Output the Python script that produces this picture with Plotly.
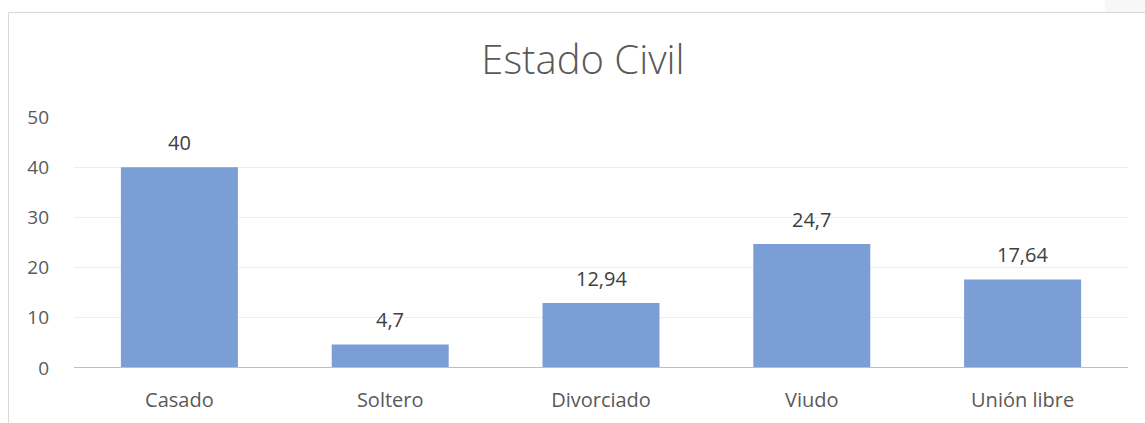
import plotly.graph_objects as go

categories = ["Casado", "Soltero", "Divorciado", "Viudo", "Unión libre"]
values = [40, 4.7, 12.94, 24.7, 17.64]
y_ticks = [0, 10, 20, 30, 40, 50]

labels = [str(v).replace(".", ",") for v in values]

fig = go.Figure()
fig.add_trace(go.Bar(
    x=categories, y=values,
    marker=dict(color="#7B9ED7", line=dict(width=0)),
    hoverinfo="x+y",
))

for c, v, t in zip(categories, values, labels):
    fig.add_annotation(x=c, y=v, text=t, showarrow=False, yanchor="bottom",
                       yshift=9, font=dict(family="Open Sans", size=20, color="#404040"))

W, H = 1145, 423
PLOT_L, PLOT_R, PLOT_T, PLOT_B = 74, 1128, 117, 368
L, R, T, B = PLOT_L, W - PLOT_R, PLOT_T, H - PLOT_B
pw, ph = PLOT_R - PLOT_L, PLOT_B - PLOT_T

def px(x):
    return (x - PLOT_L) / pw

def py(y):
    return (PLOT_B - y) / ph

shapes = [
    dict(type="line", xref="paper", yref="paper", x0=px(8.5), x1=px(8.5), y0=py(430), y1=py(12.5),
         line=dict(color="#D9D9D9", width=1)),
    dict(type="line", xref="paper", yref="paper", x0=px(8.5), x1=px(1145), y0=py(12.5), y1=py(12.5),
         line=dict(color="#D9D9D9", width=1)),
    dict(type="rect", xref="paper", yref="paper", x0=px(1105), x1=px(1145), y0=py(12), y1=py(0),
         fillcolor="#F7F7F7", line=dict(width=0), layer="below"),
    dict(type="line", xref="paper", yref="y", x0=0, x1=1, y0=0, y1=0,
         line=dict(color="#BFBFBF", width=2)),
]

fig.update_layout(
    width=W, height=H, autosize=False,
    margin=dict(l=L, r=R, t=T, b=B, pad=0),
    paper_bgcolor="white", plot_bgcolor="white",
    bargap=0.445,
    showlegend=False,
    shapes=shapes,
    title=dict(text="Estado Civil", x=583 / W, xref="container", xanchor="center",
               y=1 - 60 / H, yref="container", yanchor="middle",
               font=dict(family="Open Sans", size=40, color="#595959", weight=300)),
    xaxis=dict(showgrid=False, showline=False, zeroline=False, ticks="", automargin=False,
               ticklabelstandoff=18,
               tickfont=dict(family="Open Sans", size=20, color="#595959")),
    yaxis=dict(range=[0, 50], tickvals=y_ticks, showgrid=True, gridcolor="#EEEEEE", gridwidth=1,
               zeroline=False, showline=False, ticks="", ticklabelstandoff=24, automargin=False,
               tickfont=dict(family="Open Sans", size=19, color="#595959")),
)

fig.write_html("out.html", config={"displayModeBar": False, "responsive": False},
               post_script="document.body.style.margin='0';")
